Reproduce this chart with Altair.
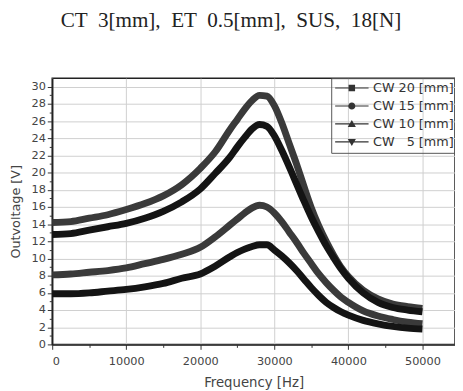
import altair as alt
import pandas as pd

freq = [0, 2500, 5000, 7500, 10000, 12500, 15000, 17500, 20000, 22000, 24000, 25000,
        26000, 27000, 28000, 29000, 30000, 31000, 32000, 33000, 34000, 35000, 36000,
        37000, 38000, 39000, 40000, 42000, 44000, 46000, 48000, 50000]

cw20 = [14.2, 14.3, 14.7, 15.1, 15.7, 16.4, 17.3, 18.6, 20.5, 22.4, 25.0, 26.2,
        27.4, 28.4, 29.0, 28.9, 27.8, 25.8, 23.4, 21.0, 18.4, 15.9, 13.8,
        12.0, 10.4, 9.0, 7.9, 6.3, 5.3, 4.7, 4.4, 4.2]
cw15 = [12.8, 12.9, 13.3, 13.7, 14.1, 14.7, 15.5, 16.6, 18.1, 19.9, 21.8, 23.0,
        24.1, 25.1, 25.6, 25.4, 24.3, 22.6, 20.7, 18.7, 16.7, 14.8, 13.1,
        11.5, 10.1, 8.8, 7.7, 6.0, 4.9, 4.3, 4.0, 3.8]
cw10 = [8.1, 8.2, 8.4, 8.6, 8.9, 9.4, 9.9, 10.5, 11.3, 12.5, 13.9, 14.6,
        15.3, 15.9, 16.2, 16.0, 15.3, 14.3, 13.1, 11.9, 10.6, 9.4, 8.2,
        7.2, 6.3, 5.5, 4.9, 3.9, 3.3, 2.9, 2.6, 2.4]
cw5 = [5.9, 5.9, 6.0, 6.2, 6.4, 6.7, 7.1, 7.7, 8.2, 9.1, 10.2, 10.7,
       11.1, 11.4, 11.6, 11.6, 11.0, 10.3, 9.5, 8.6, 7.6, 6.6, 5.7,
       4.9, 4.3, 3.8, 3.4, 2.8, 2.4, 2.1, 1.9, 1.8]

series_names = ["CW 20 [mm]", "CW 15 [mm]", "CW 10 [mm]", "CW \u20075 [mm]"]
series_values = [cw20, cw15, cw10, cw5]
series_tones = ["grey", "black", "grey", "black"]
tone_names = ["grey", "black"]
tone_colors = ["#3a3a3a", "#141414"]

x_ticks = [0, 10000, 20000, 30000, 40000, 50000]
x_minor = [5000, 15000, 25000, 35000, 45000]
y_ticks = list(range(0, 31, 2))
y_minor = list(range(1, 31, 2))

rows = []
for name, tone, vals in zip(series_names, series_tones, series_values):
    for f, v in zip(freq, vals):
        rows.append({"series": name, "tone": tone, "freq": f, "volt": v})
df = pd.DataFrame(rows)

W, H = 410, 271
xscale = alt.Scale(domain=[0, 54400], nice=False, zero=False)
yscale = alt.Scale(domain=[0, 31], nice=False)

font = "DejaVu Sans"

xaxis = alt.Axis(values=x_ticks, format="d", title="Frequency [Hz]", grid=True,
                 gridColor="#cfcfcf", gridWidth=1, tickSize=5, tickColor="#333",
                 domainColor="#222", domainWidth=1.5, labelColor="#444",
                 labelFont=font, labelFontSize=11.5, labelPadding=6, labelOverlap=False,
                 titleFont=font, titleFontSize=13.5, titleColor="#444",
                 titleFontWeight="normal", titlePadding=9)
yaxis = alt.Axis(values=y_ticks, format="d", title="Outvoltage [V]", grid=True,
                 gridColor="#cfcfcf", gridWidth=1, tickSize=5, tickColor="#333",
                 domainColor="#222", domainWidth=1.5, labelColor="#444",
                 labelFont=font, labelFontSize=11.5, labelPadding=2, labelOverlap=False,
                 titleFont=font, titleFontSize=13, titleColor="#444",
                 titleFontWeight="normal", titlePadding=9)

lines = alt.Chart(df).mark_line(strokeWidth=7, interpolate="monotone").encode(
    x=alt.X("freq:Q", scale=xscale, axis=xaxis),
    y=alt.Y("volt:Q", scale=yscale, axis=yaxis),
    color=alt.Color("tone:N", scale=alt.Scale(domain=tone_names, range=tone_colors),
                    legend=None),
    detail="series:N",
)

line_part = "M-1 -0.1H4.67V0.1H-1Z"
shape_paths = [
    line_part + "M1.28 -0.55H2.38V0.55H1.28Z",
    line_part + "M2.43 0A0.6 0.6 0 1 1 1.23 0A0.6 0.6 0 1 1 2.43 0Z",
    line_part + "M1.83 -0.68L2.52 0.5L1.14 0.5Z",
    line_part + "M1.83 0.68L1.14 -0.5L2.52 -0.5Z",
]

legend_layer = alt.Chart(df).transform_filter("datum.volt < 0").mark_point(
    filled=True, color="#333").encode(
    shape=alt.Shape("series:N", scale=alt.Scale(domain=series_names, range=shape_paths),
                    legend=alt.Legend(title=None, orient="none", legendX=284, legendY=0,
                                      symbolSize=144, symbolOpacity=1,
                                      symbolFillColor="#333", symbolStrokeWidth=0,
                                      labelFont=font, labelFontSize=13, labelColor="#333",
                                      labelOffset=26, rowPadding=4.3, padding=3.5,
                                      strokeColor="#555")),
)

ymin_df = pd.DataFrame({"volt": y_minor})
xmin_df = pd.DataFrame({"freq": x_minor})

y_minor_axis = alt.Chart(ymin_df).mark_tick(opacity=0).encode(
    y=alt.Y("volt:Q", scale=yscale,
            axis=alt.Axis(values=y_minor, labels=False, tickSize=3, tickColor="#333",
                          grid=False, domain=False, title=None, orient="left")))
x_minor_axis = alt.Chart(xmin_df).mark_tick(opacity=0).encode(
    x=alt.X("freq:Q", scale=xscale,
            axis=alt.Axis(values=x_minor, labels=False, tickSize=3, tickColor="#333",
                          grid=False, domain=False, title=None, orient="bottom")))

title = alt.Title("CT \u00a03[mm], \u00a0ET \u00a00.5[mm], \u00a0SUS, \u00a018[N]",
                  font="Liberation Serif", fontSize=21.5, fontWeight="normal",
                  color="#222", anchor="middle", baseline="alphabetic",
                  offset=30, dx=-23)

chart = alt.layer(lines, y_minor_axis, x_minor_axis, legend_layer).resolve_axis(
    x="independent", y="independent"
).properties(
    width=W, height=H, title=title, background="white",
    autosize=alt.AutoSizeParams(type="none"),
    padding={"left": 45, "top": 68, "right": 0, "bottom": 44},
).configure_view(stroke="#222", strokeWidth=1.5)

chart.save("out.html", embed_options={"renderer": "svg", "actions": False})
